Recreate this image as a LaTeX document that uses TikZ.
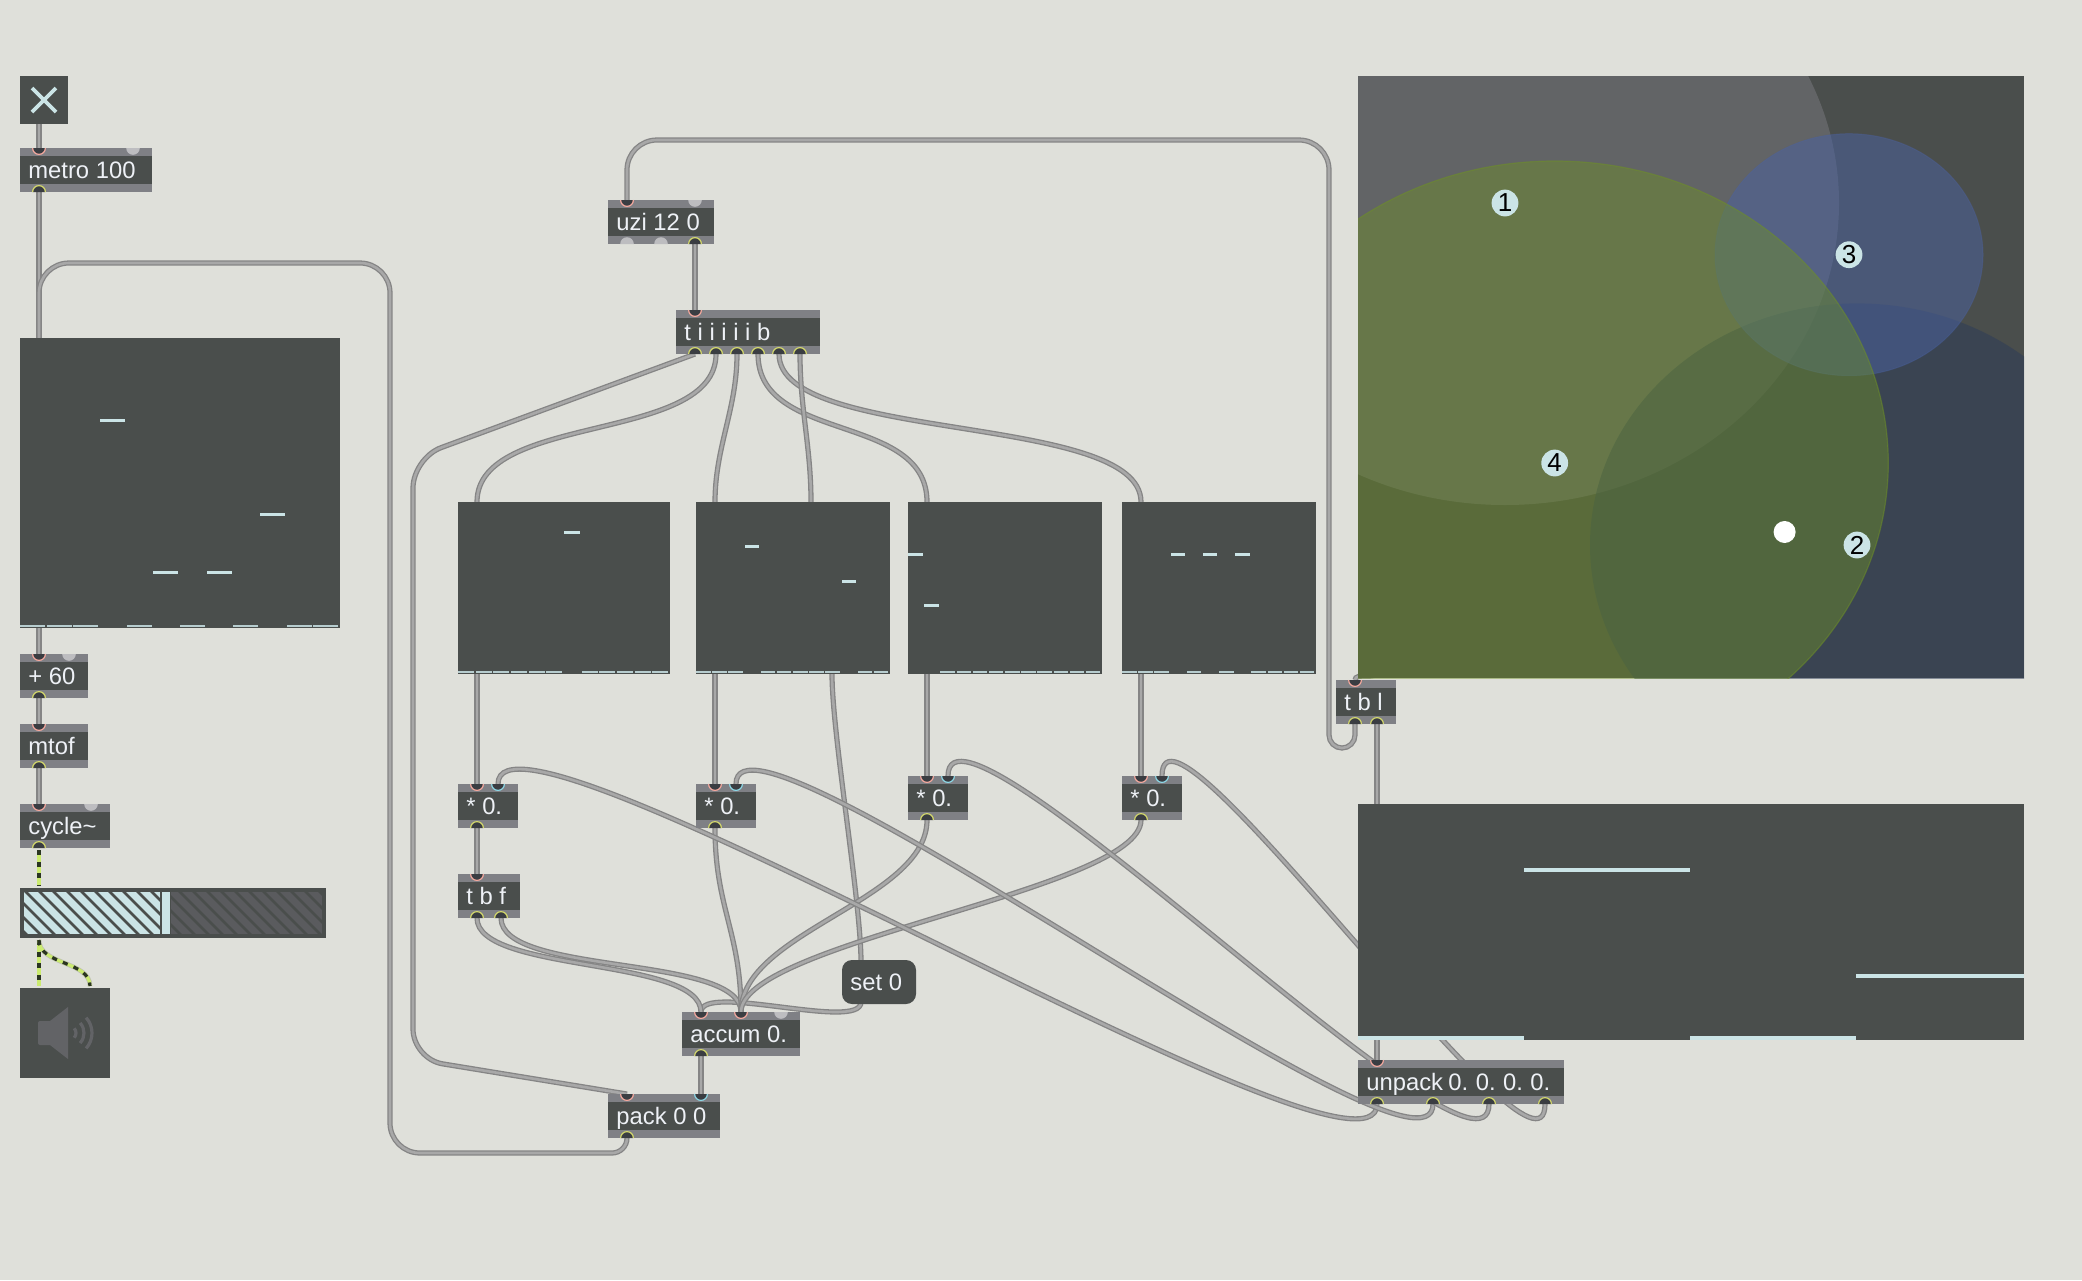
\documentclass[tikz,border=0pt]{standalone}
\usepackage{fontspec}
\setmainfont{Liberation Sans}
\pgfdeclarelayer{wires}
\pgfsetlayers{wires,main}
\definecolor{pagebg}{HTML}{DFE0DA}
\definecolor{boxdark}{HTML}{4A4E4C}
\definecolor{strip}{HTML}{7F8085}
\definecolor{portdark}{HTML}{3A3D42}
\definecolor{portpink}{HTML}{F3A89E}
\definecolor{portyel}{HTML}{D3D86C}
\definecolor{portcy}{HTML}{8CD6E4}
\definecolor{portgrey}{HTML}{BDBDC0}
\definecolor{ice}{HTML}{CBE4E6}
\definecolor{wireout}{HTML}{858585}
\definecolor{wirein}{HTML}{A8A8A8}
\definecolor{textc}{HTML}{EEF1F6}
\definecolor{sig}{HTML}{CBEB70}
\definecolor{sigd}{HTML}{2B3522}
\definecolor{sigh}{HTML}{BFC2B2}
\definecolor{cA}{RGB}{240,230,255}
\definecolor{cB}{RGB}{44,60,88}
\definecolor{cC}{RGB}{74,98,162}
\definecolor{cD}{RGB}{110,144,38}
\definecolor{meterR}{HTML}{5A5B5E}
\definecolor{spk}{HTML}{626366}
\tikzset{
  wire/.style={draw=wireout,line width=.65pt,double=wirein,double distance=1.3pt},
  panel/.style={fill=boxdark,inner sep=0pt,outer sep=0pt,anchor=north west},
  boxtext/.style={font=\fontsize{11.9}{14}\selectfont,text=textc,inner sep=0pt,anchor=base west},
  numnode/.style={circle,fill=ice,inner sep=0pt,minimum size=13.4pt,text=black,font=\fontsize{13}{15}\selectfont},
  sighalo/.style={draw=sigh,line width=2.3pt},
  sigbase/.style={draw=sig,line width=1.6pt},
  sigdash/.style={draw=sigd,line width=1.6pt,dash pattern=on 2.6pt off 3.2pt},
}
\newcommand{\maxbox}[6]{%
  \fill[boxdark] (#2,#3) rectangle (#4,#5);
  \fill[strip] (#2,#3) rectangle (#4,#3+8);
  \fill[strip] (#2,#5-8) rectangle (#4,#5);
  \node[boxtext] (#1) at (#2+8,{(#3+#5)/2+8}) {#6};
}
\newcommand{\inp}[4]{%
  \coordinate (#1) at (#2,#3);
  \fill[portdark] (#2,#3) ++(-3.2pt,0) arc[start angle=180,end angle=360,radius=3.2pt] -- cycle;
  \draw[#4,line width=.6pt] (#2,#3) ++(-3.2pt,0) arc[start angle=180,end angle=360,radius=3.2pt];
}
\newcommand{\outp}[4]{%
  \coordinate (#1) at (#2,#3);
  \fill[portdark] (#2,#3) ++(-3.2pt,0) arc[start angle=180,end angle=0,radius=3.2pt] -- cycle;
  \draw[#4,line width=.6pt] (#2,#3) ++(-3.2pt,0) arc[start angle=180,end angle=0,radius=3.2pt];
}
\newcommand{\ginp}[2]{\fill[portgrey] (#1,#2) ++(-3.4pt,0) arc[start angle=180,end angle=360,radius=3.4pt] -- cycle;}
\newcommand{\goutp}[2]{\fill[portgrey] (#1,#2) ++(-3.4pt,0) arc[start angle=180,end angle=0,radius=3.4pt] -- cycle;}
% name x top width bottom; low-cell list; up-cell list
\newcommand{\mslider}[7]{%
  \node[panel,minimum width=#4*.5pt,minimum height={(#5-#3)*.5pt}] (#1) at (#2,#3) {};
  \foreach \c in {#6} {\fill[ice,fill opacity=.85] ({#2+\c*#4/12},#5-2.6) rectangle ({#2+(\c+1)*#4/12-1.6},#5-.6);}
  \foreach \c/\yy in {#7} {\fill[ice] ({#2+\c*#4/12},\yy-1.5) rectangle ({#2+(\c+1)*#4/12-1.6},\yy+1.5);}
}
\begin{document}
\begin{tikzpicture}[x=.5pt,y=-.5pt]
\useasboundingbox (0,0) rectangle (2082,1280);
\begin{pgfonlayer}{wires}
\fill[pagebg] (0,0) rectangle (2082,1280);
\end{pgfonlayer}

% ---------- left column
\node[panel,minimum width=24pt,minimum height=24pt] (tog) at (20,76) {};
\draw[ice,line width=1.8pt] (32,88) -- (56,112) (56,88) -- (32,112);
\coordinate (togO) at (39,124);
\maxbox{metro}{20}{148}{152}{192}{metro 100}
\inp{metroI}{39}{148}{portpink}\ginp{133}{148}\outp{metroO}{39}{192}{portyel}
\mslider{msA}{20}{338}{320}{628}{0,1,2,4,6,8,10,11}{3/420,9/514,5/572,7/572}
\coordinate (msAt) at (39,338);
\coordinate (msAb) at (39,628);
\maxbox{plus}{20}{654}{88}{698}{+ 60}
\inp{plusI}{39}{654}{portpink}\ginp{69}{654}\outp{plusO}{39}{698}{portyel}
\maxbox{mtof}{20}{724}{88}{768}{mtof}
\inp{mtofI}{39}{724}{portpink}\outp{mtofO}{39}{768}{portyel}
\maxbox{cyc}{20}{804}{110}{848}{cycle\char`~}
\inp{cycI}{39}{804}{portpink}\ginp{91}{804}\outp{cycO}{39}{848}{portyel}

% meter
\node[panel,minimum width=153pt,minimum height=25pt] (meter) at (20,888) {};
\coordinate (meterT) at (39,888);
\coordinate (meterB) at (39,940);
\fill[ice] (24,892) rectangle (160,934);
\fill[meterR] (171,892) rectangle (322,934);
\begin{scope}
\clip (24,892) rectangle (160,934) (171,892) rectangle (322,934);
\foreach \k in {0,...,24} {\draw[boxdark,line width=1.3pt] ({-20+\k*14},888) -- ({30+\k*14},938);}
\end{scope}
\fill[ice] (162,892) rectangle (170,934);

% speaker
\node[panel,minimum width=45pt,minimum height=45pt] (dac) at (20,988) {};
\coordinate (dacA) at (39,986);
\coordinate (dacB) at (90,986);
\fill[spk,rounded corners=1pt] (38,1021) rectangle (52,1045);
\fill[spk] (50,1021) -- (68,1007) -- (68,1059) -- (50,1045) -- cycle;
\foreach \r in {3.5,7.5,11.5} {\draw[spk,line width=1.6pt] (69,1033) ++(-42:\r pt) arc[start angle=-42,end angle=42,radius=\r pt];}

% ---------- uzi and trigger
\maxbox{uzi}{608}{200}{714}{244}{uzi 12 0}
\inp{uziI}{627}{200}{portpink}\ginp{695}{200}\goutp{627}{244}\goutp{661}{244}\outp{uziO}{695}{244}{portyel}
\maxbox{trig}{676}{310}{820}{354}{t i i i i i b}
\inp{trigI}{695}{310}{portpink}
\outp{trigA}{695}{354}{portyel}\outp{trigB}{716}{354}{portyel}\outp{trigC}{737}{354}{portyel}
\outp{trigD}{758}{354}{portyel}\outp{trigE}{779}{354}{portyel}\outp{trigF}{800}{354}{portyel}

% ---------- four sliders
\mslider{msB}{458}{502}{212}{674}{0,1,2,3,4,5,7,8,9,10,11}{6/532.7}
\mslider{msC}{696}{502}{194}{674}{0,1,2,4,5,6,7,8,10,11}{3/546.7,9/581}
\mslider{msD}{908}{502}{194}{674}{2,3,4,5,6,7,8,9,10,11}{0/554.7,1/605}
\mslider{msE}{1122}{502}{194}{674}{0,1,2,4,6,8,9,10,11}{3/554.7,5/554.7,7/554.7}
\coordinate (msBt) at (477,502);\coordinate (msBb) at (477,674);
\coordinate (msCt) at (715,502);\coordinate (msCb) at (715,674);
\coordinate (msCu) at (811,502);\coordinate (msCv) at (832,674);
\coordinate (msDt) at (927,502);\coordinate (msDb) at (927,674);
\coordinate (msEt) at (1141,502);\coordinate (msEb) at (1141,674);

% ---------- multipliers
\maxbox{mulA}{458}{784}{518}{828}{* 0.}
\inp{mulAi}{477}{784}{portpink}\inp{mulAj}{498}{784}{portcy}\outp{mulAo}{477}{828}{portyel}
\maxbox{mulB}{696}{784}{756}{828}{* 0.}
\inp{mulBi}{715}{784}{portpink}\inp{mulBj}{736}{784}{portcy}\outp{mulBo}{715}{828}{portyel}
\maxbox{mulC}{908}{776}{968}{820}{* 0.}
\inp{mulCi}{927}{776}{portpink}\inp{mulCj}{948}{776}{portcy}\outp{mulCo}{927}{820}{portyel}
\maxbox{mulD}{1122}{776}{1182}{820}{* 0.}
\inp{mulDi}{1141}{776}{portpink}\inp{mulDj}{1162}{776}{portcy}\outp{mulDo}{1141}{820}{portyel}
\maxbox{tbf}{458}{874}{520}{918}{t b f}
\inp{tbfI}{477}{874}{portpink}\outp{tbfA}{477}{918}{portyel}\outp{tbfB}{501}{918}{portyel}

% ---------- accum, set, pack
\maxbox{acc}{682}{1012}{800}{1056}{accum 0.}
\inp{accI}{701}{1012}{portpink}\inp{accJ}{741}{1012}{portpink}\ginp{781}{1012}\outp{accO}{701}{1056}{portyel}
\node[panel,rounded corners=5pt,minimum width=37pt,minimum height=22pt] (setbg) at (842,960) {};
\node[boxtext] (settxt) at (850,990) {set 0};
\coordinate (setI) at (861,962);
\coordinate (setO) at (861,1002);
\maxbox{pack}{608}{1094}{720}{1138}{pack 0 0}
\inp{packI}{627}{1094}{portpink}\inp{packJ}{701}{1094}{portcy}\outp{packO}{627}{1138}{portyel}

% ---------- nodes panel
\node[panel,minimum width=333pt,minimum height=301pt] (nodesp) at (1358,76) {};
\coordinate (nodesb) at (1377,672);
\begin{scope}
\clip (1358,76) rectangle (2024,678);
\fill[cA,fill opacity=.15] (1505,203) ellipse [x radius=167pt,y radius=151pt];
\fill[cB,fill opacity=.5] (1857,545) ellipse [x radius=133.5pt,y radius=120.8pt];
\fill[cC,fill opacity=.5,draw=cC,draw opacity=.35,line width=.5pt] (1849,254.7) ellipse [x radius=67pt,y radius=60.5pt];
\fill[cD,fill opacity=.45,draw=cD,draw opacity=.5,line width=.6pt] (1554.7,463) ellipse [x radius=166.8pt,y radius=151pt];
\end{scope}
\node[numnode] (nA) at (1505,203) {1};
\node[numnode] (nB) at (1857,545) {2};
\node[numnode] (nC) at (1849,254.7) {3};
\node[numnode] (nD) at (1554.7,463) {4};
\node[circle,fill=white,inner sep=0pt,minimum size=11pt] (dot) at (1784.6,532) {};

\maxbox{tbl}{1336}{680}{1396}{724}{t b l}
\inp{tblI}{1355}{680}{portpink}\outp{tblA}{1355}{724}{portyel}\outp{tblB}{1377}{724}{portyel}

% ---------- function panel
\node[panel,minimum width=333pt,minimum height=118pt] (func) at (1358,804) {};
\coordinate (funcT) at (1377,804);
\coordinate (funcB) at (1377,1040);
\fill[ice] (1358,1036) rectangle (1524,1040);
\fill[ice] (1524,868) rectangle (1690,872);
\fill[ice] (1690,1036) rectangle (1856,1040);
\fill[ice] (1856,974) rectangle (2024,978);

\maxbox{unp}{1358}{1060}{1564}{1104}{\spaceskip=2.65pt unpack 0. 0. 0. 0.}
\inp{unpI}{1377}{1060}{portpink}
\outp{unpA}{1377}{1104}{portyel}\outp{unpB}{1433}{1104}{portyel}
\outp{unpC}{1489}{1104}{portyel}\outp{unpD}{1545}{1104}{portyel}

% ---------- wires
\coordinate (cuA) at (1355,748);
\coordinate (cuB) at (1329,748);
\coordinate (cuC) at (1329,140);
\coordinate (cuD) at (627,140);
\coordinate (cpA) at (413,458);
\coordinate (cpB) at (413,1059);
\coordinate (clA) at (627,1153);
\coordinate (clB) at (390,1153);
\coordinate (clC) at (390,263);
\coordinate (clD) at (39,263);
\begin{pgfonlayer}{wires}
\draw[wire] (togO) -- (metroI);
\draw[wire] (metroO) -- (msAt);
\draw[wire] (msAb) -- (plusI);
\draw[wire] (plusO) -- (mtofI);
\draw[wire] (mtofO) -- (cycI);
\draw[wire] (uziO) -- (trigI);
\draw[wire,rounded corners=7.5pt] (packO) -- (clA) [rounded corners=15pt] -- (clB) -- (clC) -- (clD) -- (msAt);
\draw[wire,rounded corners=6.5pt] (tblA) -- (cuA) -- (cuB) [rounded corners=15pt] -- (cuC) -- (cuD) -- (uziI);
\draw[wire,rounded corners=15pt] (trigA) -- (cpA) -- (cpB) -- (packI);
\draw[wire] (trigB) .. controls +(0,90) and +(0,-90) .. (msBt);
\draw[wire] (trigC) .. controls +(0,55) and +(0,-55) .. (msCt);
\draw[wire] (trigD) .. controls +(0,90) and +(0,-90) .. (msDt);
\draw[wire] (trigE) .. controls +(0,90) and +(0,-90) .. (msEt);
\draw[wire] (trigF) .. controls +(0,55) and +(0,-55) .. (msCu);
\draw[wire] (msBb) -- (mulAi);
\draw[wire] (msCb) -- (mulBi);
\draw[wire] (msDb) -- (mulCi);
\draw[wire] (msEb) -- (mulDi);
\draw[wire] (msCv) .. controls +(0,60) and +(0,-60) .. (setI);
\draw[wire] (setO) .. controls +(0,30) and +(0,-30) .. (accI);
\draw[wire] (mulAo) -- (tbfI);
\draw[wire] (tbfA) .. controls +(0,55) and +(0,-55) .. (accI);
\draw[wire] (tbfB) .. controls +(0,58) and +(0,-58) .. (accJ);
\draw[wire] (mulBo) .. controls +(0,80) and +(0,-80) .. (accJ);
\draw[wire] (mulCo) .. controls +(0,80) and +(0,-80) .. (accJ);
\draw[wire] (mulDo) .. controls +(0,70) and +(0,-70) .. (accJ);
\draw[wire] (accO) -- (packJ);
\draw[wire] (nodesb) .. controls +(0,8) and +(0,-8) .. (tblI);
\draw[wire] (tblB) -- (funcT);
\draw[wire] (funcB) -- (unpI);
\draw[wire] (unpA) .. controls +(0,110) and +(0,-110) .. (mulAj);
\draw[wire] (unpB) .. controls +(0,105) and +(0,-105) .. (mulBj);
\draw[wire] (unpC) .. controls +(0,110) and +(0,-110) .. (mulCj);
\draw[wire] (unpD) .. controls +(0,110) and +(0,-110) .. (mulDj);
\end{pgfonlayer}
% audio cables
\coordinate (cycS) at (39,850);
\coordinate (meterS) at (39,886);
\draw[sighalo] (cycS) -- (meterS);
\draw[sighalo] (meterB) -- (dacA);
\draw[sighalo] (meterB) .. controls +(0,25) and +(0,-25) .. (dacB);
\draw[sigbase] (cycS) -- (meterS);
\draw[sigdash] (cycS) -- (meterS);
\draw[sigbase] (meterB) -- (dacA);
\draw[sigdash] (meterB) -- (dacA);
\draw[sigbase] (meterB) .. controls +(0,25) and +(0,-25) .. (dacB);
\draw[sigdash] (meterB) .. controls +(0,25) and +(0,-25) .. (dacB);
\end{tikzpicture}
\end{document}
